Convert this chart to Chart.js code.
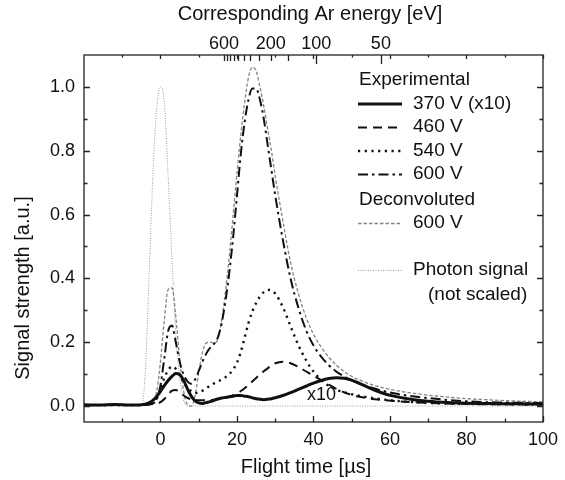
<!DOCTYPE html>
<html>
<head>
<meta charset="utf-8">
<script src="https://cdn.jsdelivr.net/npm/chart.js@4.4.1/dist/chart.umd.min.js"></script>
<style>
  html, body { margin: 0; padding: 0; background: #fff; }
  canvas { display: block; }
</style>
</head>
<body>
<canvas id="tof" width="565" height="480"></canvas>
<script>
// Flight time grid [µs], shared by every trace
const flightTime = [-20, -16, -12, -8, -5, -4, -3, -2, -1,
  0, 1, 2, 3, 4, 5, 6, 7, 8, 9, 10, 11, 12, 13, 14, 15, 16, 17, 18, 19, 20,
  21, 22, 23, 24, 25, 26, 27, 28, 29, 30,
  32, 34, 36, 38, 40, 42, 44, 46, 48, 50, 52,
  55, 58, 61, 65, 70, 75, 80, 85, 90, 95, 100];

const sig370 = [0.004, 0.003, 0.005, 0.003, 0.004, 0.006, 0.010, 0.018, 0.030,
  0.046, 0.064, 0.080, 0.093, 0.102, 0.099, 0.082, 0.055, 0.032, 0.017, 0.010,
  0.008, 0.011, 0.014, 0.018, 0.022, 0.025, 0.027, 0.029, 0.031, 0.033,
  0.033, 0.031, 0.029, 0.026, 0.023, 0.021, 0.020, 0.021, 0.023, 0.026,
  0.033, 0.042, 0.052, 0.062, 0.072, 0.080, 0.086, 0.089, 0.087, 0.081, 0.071,
  0.055, 0.041, 0.031, 0.022, 0.015, 0.011, 0.009, 0.008, 0.007, 0.007, 0.006];

const sig460 = [0.003, 0.003, 0.003, 0.003, 0.003, 0.004, 0.005, 0.006, 0.008,
  0.012, 0.022, 0.036, 0.048, 0.050, 0.044, 0.034, 0.026, 0.021, 0.019, 0.018,
  0.018, 0.018, 0.019, 0.020, 0.022, 0.024, 0.027, 0.030, 0.034, 0.039,
  0.047, 0.056, 0.066, 0.077, 0.088, 0.099, 0.109, 0.118, 0.127, 0.134,
  0.139, 0.134, 0.123, 0.109, 0.095, 0.081, 0.067, 0.054, 0.043, 0.035, 0.029,
  0.023, 0.019, 0.016, 0.013, 0.010, 0.008, 0.007, 0.006, 0.006, 0.005, 0.005];

const sig540 = [0.003, 0.003, 0.003, 0.003, 0.003, 0.004, 0.006, 0.010, 0.025,
  0.055, 0.088, 0.112, 0.124, 0.117, 0.097, 0.075, 0.058, 0.047, 0.041, 0.042,
  0.048, 0.056, 0.064, 0.071, 0.077, 0.083, 0.090, 0.100, 0.115, 0.136,
  0.170, 0.215, 0.260, 0.296, 0.323, 0.343, 0.357, 0.364, 0.362, 0.352,
  0.310, 0.250, 0.192, 0.145, 0.108, 0.082, 0.063, 0.051, 0.043, 0.037, 0.032,
  0.026, 0.021, 0.017, 0.013, 0.010, 0.008, 0.007, 0.006, 0.006, 0.005, 0.005];

const sig600 = [0.003, 0.003, 0.003, 0.003, 0.003, 0.004, 0.005, 0.008, 0.020,
  0.065, 0.150, 0.235, 0.252, 0.200, 0.140, 0.100, 0.078, 0.070, 0.082, 0.110,
  0.140, 0.165, 0.183, 0.195, 0.215, 0.260, 0.330, 0.420, 0.530, 0.660,
  0.790, 0.890, 0.960, 0.995, 0.995, 0.960, 0.900, 0.820, 0.740, 0.660,
  0.520, 0.400, 0.310, 0.240, 0.190, 0.155, 0.128, 0.108, 0.093, 0.080, 0.070,
  0.058, 0.048, 0.040, 0.032, 0.025, 0.019, 0.015, 0.012, 0.011, 0.010, 0.009];

const deconv600 = [0.002, 0.002, 0.002, 0.002, 0.002, 0.003, 0.005, 0.012, 0.045,
  0.140, 0.270, 0.365, 0.370, 0.280, 0.150, 0.050, 0.005, 0.000, 0.030, 0.105,
  0.170, 0.198, 0.200, 0.198, 0.210, 0.270, 0.360, 0.470, 0.600, 0.730,
  0.850, 0.950, 1.030, 1.062, 1.050, 1.000, 0.940, 0.870, 0.800, 0.720,
  0.580, 0.450, 0.355, 0.280, 0.225, 0.185, 0.153, 0.128, 0.108, 0.093, 0.082,
  0.068, 0.058, 0.050, 0.042, 0.034, 0.028, 0.023, 0.020, 0.017, 0.015, 0.013];

const photon = [0, 0, 0, 0, 0, 0.10, 0.40, 0.72, 0.93,
  1.00, 0.95, 0.72, 0.46, 0.23, 0.09, 0.02, 0, 0, 0, 0,
  0, 0, 0, 0, 0, 0, 0, 0, 0, 0,
  0, 0, 0, 0, 0, 0, 0, 0, 0, 0,
  0, 0, 0, 0, 0, 0, 0, 0, 0, 0, 0,
  0, 0, 0, 0, 0, 0, 0, 0, 0, 0, 0];

// axis ticks
const xLabelTicks = [0, 20, 40, 60, 80, 100];
const xMinorTicks = [-10, 10, 30, 50, 70, 90];
const yLabelTicks = [0, 0.2, 0.4, 0.6, 0.8, 1.0];
const yMinorTicks = [0.1, 0.3, 0.5, 0.7, 0.9];
// top axis: Ar energy [eV], E = C / t^2
const arConst = 166000;
const energyTicks = [600, 550, 500, 450, 400, 350, 300, 250, 200, 150, 100, 50];
const energyLabels = ['600', '', '', '', '', '', '', '', '200', '', '100', '50'];

const FONT = "'Liberation Sans', Arial, sans-serif";

function pts(ys) {
  return flightTime.map((t, i) => ({ x: t, y: ys[i] }));
}

const datasets = [
  { label: '370 V (x10)', data: pts(sig370), borderColor: '#111', borderWidth: 3, borderDash: [] },
  { label: '460 V', data: pts(sig460), borderColor: '#111', borderWidth: 2, borderDash: [9, 6] },
  { label: '540 V', data: pts(sig540), borderColor: '#111', borderWidth: 2.4, borderDash: [2.2, 4.5] },
  { label: '600 V', data: pts(sig600), borderColor: '#111', borderWidth: 2, borderDash: [10, 4, 2.5, 4] },
  { label: '600 V', data: pts(deconv600), borderColor: '#858585', borderWidth: 1.3, borderDash: [3.5, 2] },
  { label: 'Photon signal', data: pts(photon), borderColor: '#9a9a9a', borderWidth: 1, borderDash: [1, 1.5] }
];

// frame, inward ticks on all four sides, energy ticks on top, axis titles
const frameTicks = {
  id: 'frameTicks',
  afterDatasetsDraw(chart) {
    const { ctx, chartArea: a, scales: { x, y } } = chart;
    ctx.save();
    ctx.strokeStyle = '#222';
    ctx.lineWidth = 1.3;
    ctx.strokeRect(a.left, a.top, a.right - a.left, a.bottom - a.top);
    ctx.beginPath();
    const xt = (v, len, topLen) => {
      const px = Math.round(x.getPixelForValue(v)) + 0.5;
      ctx.moveTo(px, a.bottom); ctx.lineTo(px, a.bottom - len);
      ctx.moveTo(px, a.top); ctx.lineTo(px, a.top + topLen);
    };
    xLabelTicks.forEach(v => xt(v, 6, 4));
    xMinorTicks.forEach(v => xt(v, 3.5, 2.5));
    const yt = (v, len) => {
      const py = Math.round(y.getPixelForValue(v)) + 0.5;
      ctx.moveTo(a.left, py); ctx.lineTo(a.left + len, py);
      ctx.moveTo(a.right, py); ctx.lineTo(a.right - len, py);
    };
    yLabelTicks.forEach(v => yt(v, 6));
    yMinorTicks.forEach(v => yt(v, 3.5));
    energyTicks.forEach(E => {
      const px = Math.round(x.getPixelForValue(Math.sqrt(arConst / E))) + 0.5;
      const len = (E === 100 || E === 50) ? 9 : 6;
      ctx.moveTo(px, a.top); ctx.lineTo(px, a.top + len);
    });
    ctx.stroke();

    ctx.fillStyle = '#111';
    ctx.textAlign = 'center';
    ctx.textBaseline = 'middle';
    // "x10" note next to the 370 V trace
    ctx.font = '18px ' + FONT;
    ctx.fillText('x10', x.getPixelForValue(42.1), y.getPixelForValue(0.034));
    // axis titles
    ctx.font = '20px ' + FONT;
    ctx.fillText('Flight time [\u00b5s]', 306, 467);
    ctx.fillText('Corresponding Ar energy [eV]', 310, 14);
    ctx.translate(23, 288);
    ctx.rotate(-Math.PI / 2);
    ctx.fillText('Signal strength [a.u.]', 0, 0);
    ctx.restore();
  }
};

// legend with headings, drawn by hand
const legendRows = [
  { text: 'Experimental', head: true },
  { text: '370 V (x10)', ds: 0 },
  { text: '460 V', ds: 1 },
  { text: '540 V', ds: 2 },
  { text: '600 V', ds: 3 },
  { text: 'Deconvoluted', head: true },
  { text: '600 V', ds: 4 },
  { text: '', head: true },
  { text: 'Photon signal', ds: 5 },
  { text: '(not scaled)', indent: true }
];
const legendY = [80, 103.5, 127, 150.5, 174, 199.5, 223, 0, 270, 294.5];

const customLegend = {
  id: 'customLegend',
  afterDraw(chart) {
    const ctx = chart.ctx;
    const x0 = 358, x1 = 402, tx = 413;
    ctx.save();
    ctx.font = '19px ' + FONT;
    ctx.fillStyle = '#111';
    ctx.textBaseline = 'middle';
    legendRows.forEach((r, i) => {
      const cy = legendY[i];
      if (r.head) {
        ctx.fillText(r.text, 359, cy);
        return;
      }
      if (r.indent) {
        ctx.fillText(r.text, 428, cy);
        return;
      }
      const d = chart.data.datasets[r.ds];
      ctx.save();
      ctx.strokeStyle = d.borderColor;
      ctx.lineWidth = d.borderWidth;
      ctx.setLineDash(d.borderDash);
      ctx.beginPath();
      ctx.moveTo(x0, cy + 0.5);
      ctx.lineTo(x1, cy + 0.5);
      ctx.stroke();
      ctx.restore();
      ctx.fillText(r.text, tx, cy);
    });
    ctx.restore();
  }
};

new Chart(document.getElementById('tof').getContext('2d'), {
  type: 'line',
  data: { datasets: datasets.map(d => Object.assign({
    fill: false, pointRadius: 0, cubicInterpolationMode: 'monotone', borderCapStyle: 'butt'
  }, d)) },
  options: {
    responsive: false,
    animation: false,
    layout: { padding: { left: 0, right: 22, top: 0, bottom: 0 } },
    plugins: { legend: { display: false }, tooltip: { enabled: false } },
    scales: {
      x: {
        type: 'linear', position: 'bottom', min: -20, max: 100,
        afterBuildTicks: ax => { ax.ticks = xLabelTicks.map(v => ({ value: v })); },
        ticks: { color: '#111', font: { family: FONT, size: 18 }, padding: 7, maxRotation: 0, autoSkip: false },
        grid: { display: false, drawTicks: false },
        border: { display: false },
        afterFit: s => { s.height = 58; }
      },
      x2: {
        type: 'linear', position: 'top', min: -20, max: 100,
        afterBuildTicks: ax => { ax.ticks = energyTicks.map(E => ({ value: Math.sqrt(arConst / E) })); },
        ticks: { color: '#111', font: { family: FONT, size: 18 }, padding: 0, maxRotation: 0, autoSkip: false,
          callback: (v, i) => energyLabels[i] },
        grid: { display: false, drawTicks: false },
        border: { display: false },
        afterFit: s => { s.height = 55; }
      },
      y: {
        type: 'linear', position: 'left', min: -0.05, max: 1.1,
        afterBuildTicks: ax => { ax.ticks = yLabelTicks.map(v => ({ value: v })); },
        ticks: { color: '#111', font: { family: FONT, size: 18 }, padding: 9, callback: v => v.toFixed(1) },
        grid: { display: false, drawTicks: false },
        border: { display: false },
        afterFit: s => { s.width = 84; }
      }
    }
  },
  plugins: [frameTicks, customLegend]
});
</script>
</body>
</html>
